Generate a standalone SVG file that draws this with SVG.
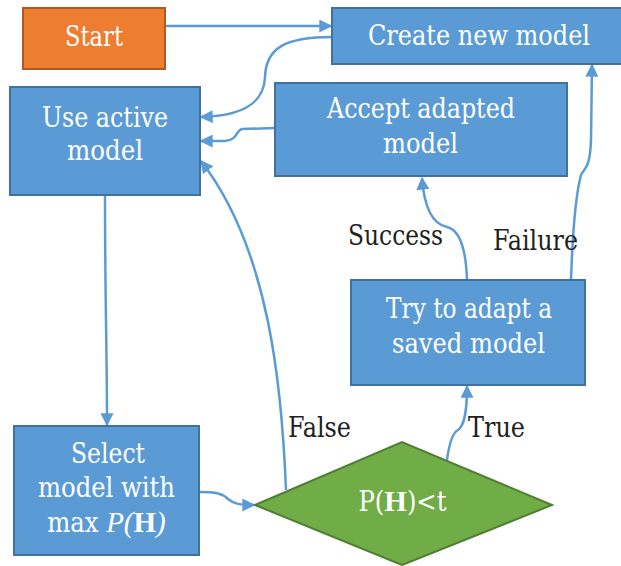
<svg xmlns="http://www.w3.org/2000/svg" width="621" height="566" viewBox="0 0 621 566">
  <defs>
    <style>
      .box { fill: #5b9bd5; stroke: #41719c; stroke-width: 2; }
      .start { fill: #ed7d31; stroke: #ae5a21; stroke-width: 2; }
      .dec { fill: #70ad47; stroke: #507e32; stroke-width: 2; }
      text { font-size: 27px; font-family: 'DejaVu Serif Condensed', 'Liberation Serif', serif; }
      .t { fill: #ffffff; text-anchor: middle; }
      .lbl { fill: #231f20; }
      .it { font-family: 'Liberation Serif', serif; font-style: italic; font-size: 29px; }
      .bd { font-family: 'Liberation Serif', serif; font-weight: bold; font-size: 29px; }
      .edge { fill: none; stroke: #5b9bd5; stroke-width: 2.5; marker-end: url(#arrow); }
    </style>
    <marker id="arrow" viewBox="0 0 10 10" refX="9" refY="5" markerWidth="5.2" markerHeight="5.2" markerUnits="strokeWidth" orient="auto">
      <path d="M0,0 L10,5 L0,10 z" fill="#5b9bd5"/>
    </marker>
  </defs>

  <g id="connectors">
    <path class="edge" d="M165,26 L331,26"/>
    <path class="edge" d="M332,37 C 285,37 266,48 265,77 C 264,105 240,116 201,117"/>
    <path class="edge" d="M275,128 L242,129 C 236,130 238,140 225,141 L201,141"/>
    <path class="edge" d="M286,490 C 282,390 270,250 201,161"/>
    <path class="edge" d="M105,195 C 105,300 107,350 107,425"/>
    <path class="edge" d="M199,492 C 215,492 222,493 228,499 C 234,504 240,505 254,505"/>
    <path class="edge" d="M447,460 C 449,445 452,433 458,430 C 465,425 467,410 467,386"/>
    <path class="edge" d="M467,280 C 466,250 460,230 447,227 C 432,224 424,205 422,178"/>
    <path class="edge" d="M571,280 C 573,220 577,190 581,175 C 584,168 590,170 591,140 L592,65"/>
  </g>

  <g id="start">
    <rect class="start" x="23" y="8" width="142" height="61"/>
    <text class="t" x="94" y="46" textLength="58" lengthAdjust="spacingAndGlyphs">Start</text>
  </g>

  <g id="create-new-model">
    <rect class="box" x="332" y="8" width="300" height="56"/>
    <text class="t" x="479" y="45" textLength="222" lengthAdjust="spacingAndGlyphs">Create new model</text>
  </g>

  <g id="use-active-model">
    <rect class="box" x="10" y="87" width="190" height="108"/>
    <text class="t" x="105" y="127" textLength="126" lengthAdjust="spacingAndGlyphs">Use active</text>
    <text class="t" x="105" y="160" textLength="76" lengthAdjust="spacingAndGlyphs">model</text>
  </g>

  <g id="accept-adapted-model">
    <rect class="box" x="275" y="83" width="292" height="93"/>
    <text class="t" x="421" y="118" textLength="188" lengthAdjust="spacingAndGlyphs">Accept adapted</text>
    <text class="t" x="420.5" y="153" textLength="75" lengthAdjust="spacingAndGlyphs">model</text>
  </g>

  <g id="try-to-adapt">
    <rect class="box" x="351" y="280" width="234" height="105"/>
    <text class="t" x="469" y="318" textLength="166" lengthAdjust="spacingAndGlyphs">Try to adapt a</text>
    <text class="t" x="468.5" y="353" textLength="153" lengthAdjust="spacingAndGlyphs">saved model</text>
  </g>

  <g id="select-model">
    <rect class="box" x="14" y="426" width="185" height="129"/>
    <text class="t" x="108" y="463" textLength="74" lengthAdjust="spacingAndGlyphs">Select</text>
    <text class="t" x="106.5" y="497" textLength="137" lengthAdjust="spacingAndGlyphs">model with</text>
    <text class="t" x="106.5" y="532">max <tspan class="it">P(</tspan><tspan class="bd">H</tspan><tspan class="it">)</tspan></text>
  </g>

  <g id="threshold-check">
    <polygon class="dec" points="255,505 402,442 552,505 402,565"/>
    <text class="t" x="402.5" y="511">P(<tspan class="bd">H</tspan>)&lt;t</text>
  </g>

  <g id="edge-labels">
    <text class="lbl" x="348" y="245" textLength="95" lengthAdjust="spacingAndGlyphs">Success</text>
    <text class="lbl" x="493" y="250" textLength="85" lengthAdjust="spacingAndGlyphs">Failure</text>
    <text class="lbl" x="288" y="437" textLength="63" lengthAdjust="spacingAndGlyphs">False</text>
    <text class="lbl" x="468" y="437" textLength="57" lengthAdjust="spacingAndGlyphs">True</text>
  </g>
</svg>
